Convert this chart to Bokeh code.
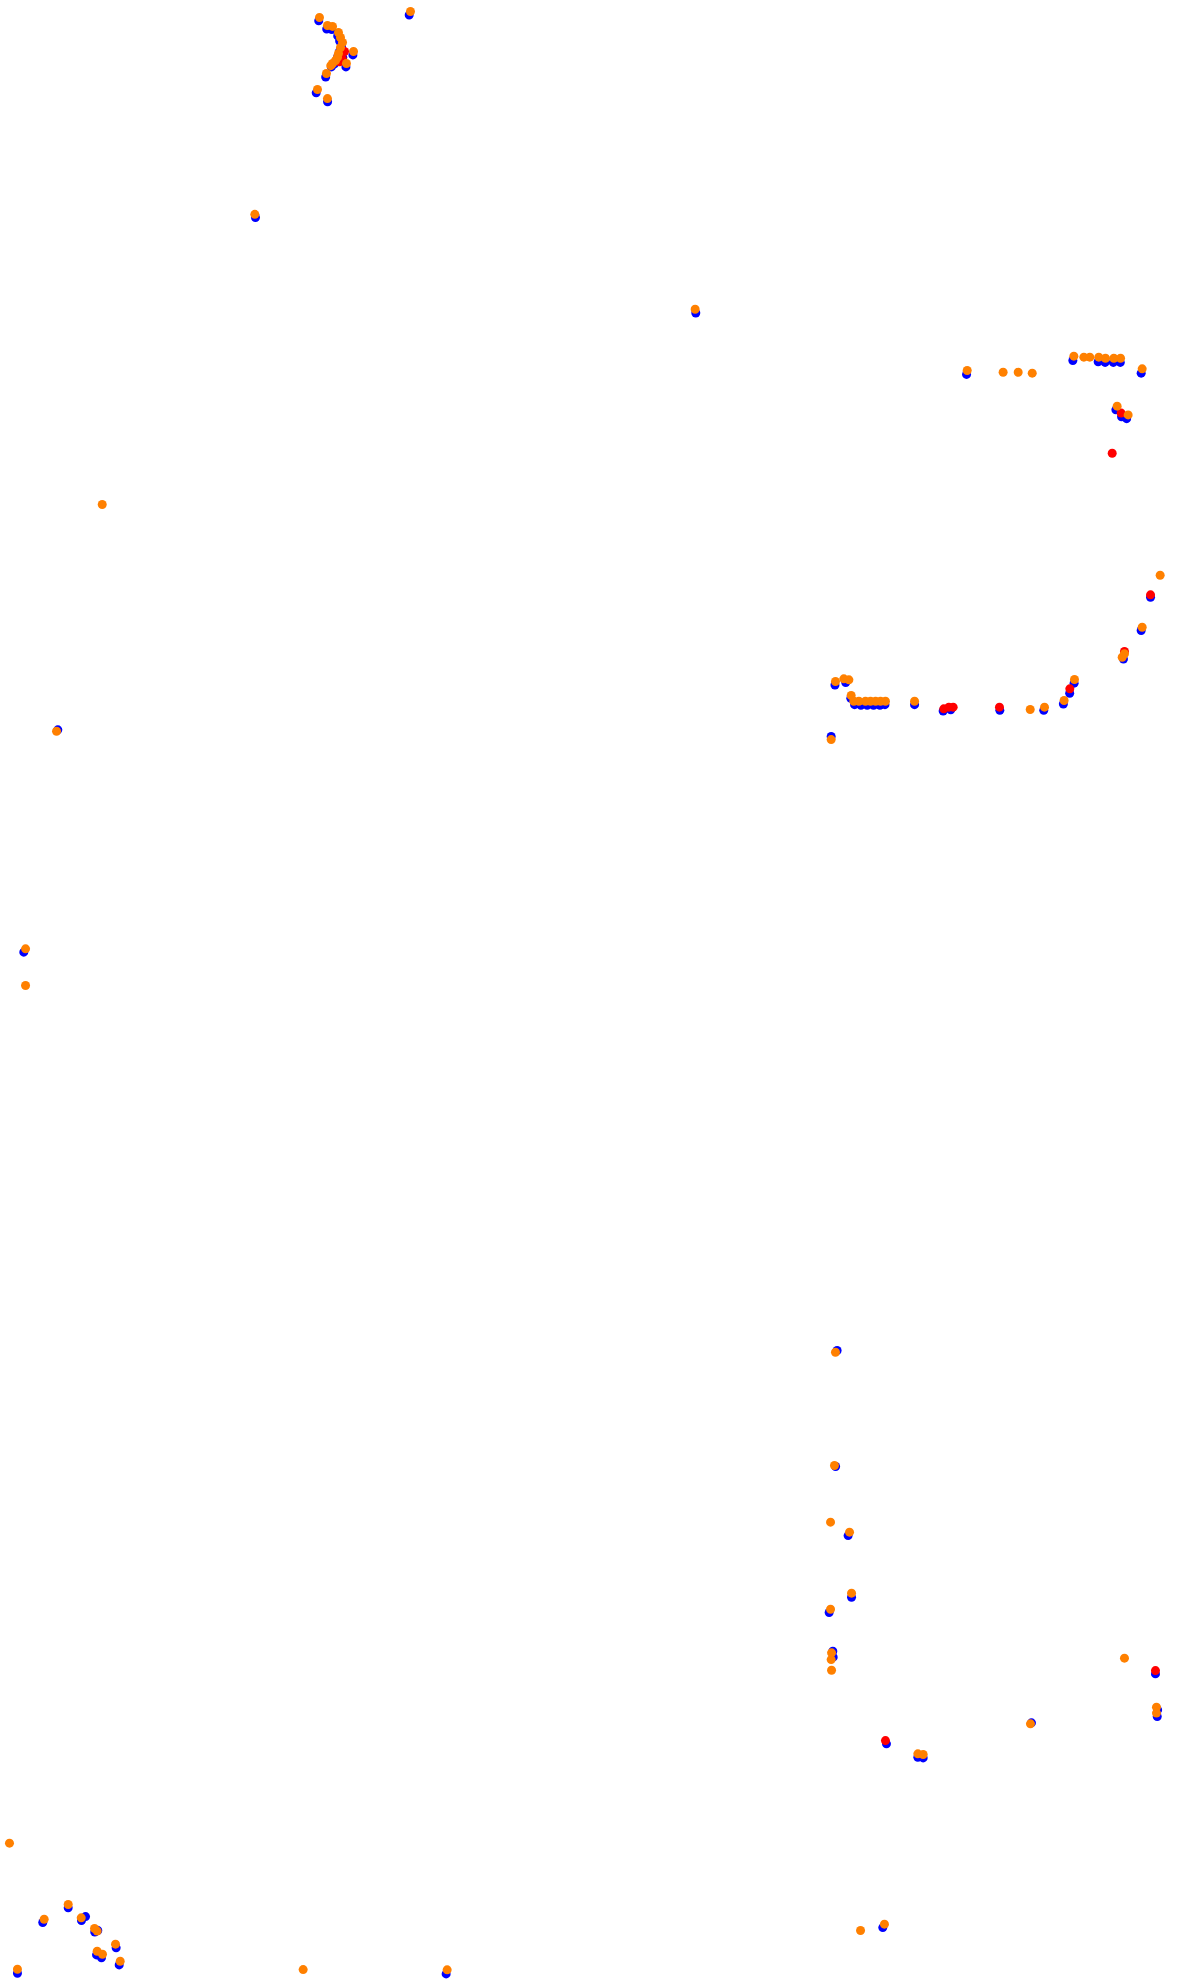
from bokeh.plotting import figure
from bokeh.models import Range1d
from bokeh.embed import file_html
from bokeh.resources import INLINE

# Track positions (x, y with y increasing downward)
blue_x = [251.5, 257.8, 261.8, 266.5, 268.0, 269.5, 268.0, 266.5, 265.5, 264.0, 261.5, 278.5, 273.0, 257.0, 249.5, 258.5, 323.0, 270.5,
          201.5, 549.5, 45.3, 18.4,
          763.5, 847.5, 867.5, 873.0, 879.5, 885.0, 901.5, 881.5, 890.0, 886.0,
          908.9, 901.5, 887.5, 848.5, 840.0, 824.5, 789.8, 745.0, 751.0, 845.0,
          659.5, 668.0, 672.0, 675.0, 680.0, 685.0, 690.0, 695.0, 699.0, 722.4, 656.5,
          661.2, 660.0, 669.9, 672.6, 654.9, 657.8, 658.1, 912.8, 914.2, 914.5, 814.8, 700.2, 725.0, 729.2, 697.3,
          53.5, 33.4, 64.0, 67.2, 76.9, 74.5, 91.4, 75.9, 79.8, 93.8, 13.4, 352.2]
blue_y = [16.0, 22.5, 23.0, 28.0, 32.0, 36.0, 40.0, 44.5, 47.5, 50.0, 52.5, 43.0, 52.5, 60.5, 73.0, 80.0, 11.5, 45.0,
          171.5, 247.0, 576.4, 752.1,
          295.5, 284.5, 285.5, 286.0, 286.0, 286.0, 294.5, 323.5, 330.5, 329.0,
          471.6, 497.9, 520.5, 539.5, 556.0, 561.0, 561.0, 561.5, 560.5, 547.5,
          541.0, 539.0, 551.5, 556.5, 557.0, 557.0, 557.0, 557.0, 556.5, 556.5, 581.7,
          1066.9, 1158.6, 1213.2, 1261.9, 1274.0, 1304.6, 1309.3, 1322.5, 1356.2, 1351.0, 1361.2, 1377.8, 1388.4, 1388.9, 1523.0,
          1507.4, 1519.0, 1517.4, 1514.3, 1525.3, 1526.5, 1539.0, 1544.6, 1546.9, 1552.5, 1559.1, 1559.6]

red_x = [271.9, 270.3, 268.0, 885.7, 878.6, 908.9, 888.3, 745.5, 749.5, 752.9, 789.5, 845.1, 912.8, 699.4]
red_y = [40.3, 46.6, 48.5, 326.1, 357.8, 469.7, 514.5, 559.8, 558.5, 558.5, 558.5, 544.0, 1319.9, 1375.2]

orange_x = [252.1, 258.4, 262.4, 267.1, 268.7, 270.3, 268.7, 267.1, 266.3, 264.8, 262.4, 279.0, 273.4, 257.6, 250.5, 258.4, 324.0, 261.0,
            201.0, 549.0, 80.4, 44.3, 19.8, 19.8,
            764.0, 792.4, 804.3, 815.4, 848.3, 856.2, 860.9, 868.0, 873.3, 879.9, 885.2, 902.3, 882.5, 891.2,
            916.5, 902.3, 886.5, 888.3, 848.8, 840.6, 825.1, 813.8,
            659.9, 666.5, 670.5, 672.3, 674.4, 678.4, 683.6, 687.6, 691.6, 695.5, 699.4, 722.4, 656.5,
            659.9, 659.1, 656.0, 671.0, 672.6, 656.0, 656.8, 656.5, 656.8,
            888.3, 913.6, 913.6, 814.0, 725.0, 729.2, 679.7, 698.6,
            7.1, 53.5, 34.5, 63.8, 74.3, 76.4, 90.9, 76.4, 80.6, 94.6, 13.4, 239.2, 353.0]
orange_y = [13.4, 19.8, 20.5, 25.3, 29.2, 33.2, 37.1, 41.9, 45.0, 47.4, 49.8, 40.3, 49.8, 57.7, 70.3, 77.5, 8.7, 51.5,
            169.0, 244.0, 398.3, 577.5, 749.5, 778.5,
            292.4, 293.8, 293.8, 294.5, 281.1, 281.9, 281.9, 281.9, 282.7, 282.7, 282.7, 291.1, 320.6, 327.5,
            454.2, 495.3, 519.0, 516.3, 536.6, 553.2, 558.5, 560.3,
            538.2, 536.1, 536.9, 549.3, 553.8, 553.8, 553.8, 553.8, 553.8, 553.8, 553.8, 553.8, 584.1,
            1068.3, 1157.8, 1202.6, 1210.5, 1258.7, 1271.4, 1305.9, 1311.2, 1319.6,
            1310.1, 1348.8, 1353.5, 1362.0, 1385.7, 1386.2, 1525.3, 1520.3,
            1456.3, 1504.8, 1516.4, 1515.3, 1523.7, 1525.8, 1536.1, 1541.7, 1544.1, 1549.6, 1555.9, 1556.2, 1556.4]

p = figure(width=1178, height=1983, output_backend="svg", toolbar_location=None,
           x_range=Range1d(0, 931.0), y_range=Range1d(1567.2, 0),
           min_border=0, outline_line_color=None)
p.axis.visible = False
p.grid.visible = False
p.background_fill_color = "white"

p.scatter(blue_x, blue_y, size=9, fill_color="#0000ff", line_color=None)
p.scatter(red_x, red_y, size=9, fill_color="#ff0000", line_color=None)
p.scatter(orange_x, orange_y, size=9, fill_color="#ff8000", line_color=None)

open("out.html", "w").write(file_html(p, INLINE))
